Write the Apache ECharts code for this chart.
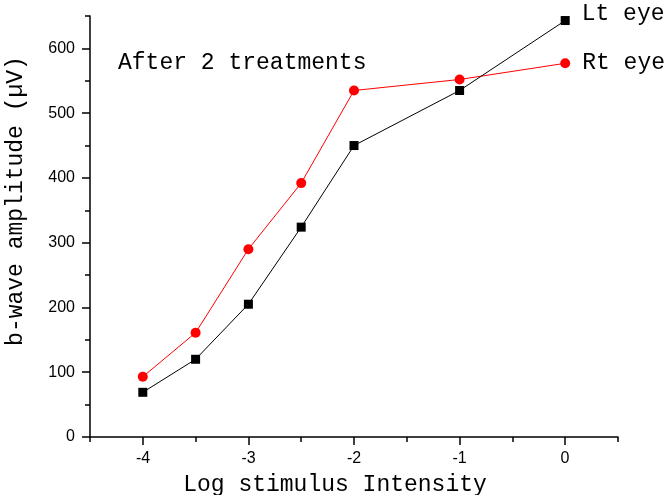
<!DOCTYPE html>
<html>
<head>
<meta charset="utf-8">
<script src="https://cdn.jsdelivr.net/npm/echarts@6/dist/echarts.min.js"></script>
<style>
html, body { margin: 0; padding: 0; background: #fff; }
#chart { width: 665px; height: 495px; }
</style>
</head>
<body>
<div id="chart"></div>
<script>
// log stimulus intensity (x) and b-wave amplitudes in µV
var logIntensity = [-4, -3.5, -3, -2.5, -2, -1, 0];
var ltEye = [69, 120, 205, 324, 450, 535, 643];
var rtEye = [93, 161, 290, 392, 535, 552, 577];
var seriesNames = ['Lt eye', 'Rt eye'];

var mono = '"Liberation Mono", "Courier New", monospace';
var sans = '"Liberation Sans", Arial, sans-serif';

function pairs(ys) {
	return logIntensity.map(function (x, i) { return [x, ys[i]]; });
}

function endLabel(offset) {
	return {
		show: true,
		position: 'right',
		distance: 12,
		offset: offset,
		fontFamily: mono,
		fontSize: 23,
		color: '#000',
		formatter: function (p) {
			return p.dataIndex === logIntensity.length - 1 ? p.seriesName : '';
		}
	};
}

var chart = echarts.init(document.getElementById('chart'));

chart.setOption({
	animation: false,
	backgroundColor: '#fff',
	grid: [
		{ left: 90, right: 47, top: 16, bottom: 58 },
		{ left: 143, right: 100, top: 48.4, bottom: 58 }
	],
	xAxis: [
		{
			type: 'value', gridIndex: 0, min: -4.5, max: 0.5, interval: 0.5,
			axisLine: { onZero: false, lineStyle: { color: '#000', width: 1.5 } },
			axisTick: { length: 5, lineStyle: { color: '#000', width: 1.5 } },
			axisLabel: { show: false },
			splitLine: { show: false }
		},
		{
			type: 'value', gridIndex: 1, min: -4, max: 0, interval: 1,
			axisLine: { show: false, onZero: false },
			axisTick: { length: 8, lineStyle: { color: '#000', width: 1.5 } },
			axisLabel: { margin: 14, color: '#000', fontFamily: sans, fontSize: 16 },
			splitLine: { show: false }
		}
	],
	yAxis: [
		{
			type: 'value', gridIndex: 0, min: 0, max: 650, interval: 50,
			axisLine: { show: true, onZero: false, lineStyle: { color: '#000', width: 1.5 } },
			axisTick: { show: true, length: 5, lineStyle: { color: '#000', width: 1.5 } },
			axisLabel: { show: false },
			splitLine: { show: false }
		},
		{
			type: 'value', gridIndex: 1, min: 0, max: 600, interval: 100, offset: 53,
			axisLine: { show: false, onZero: false },
			axisTick: { show: true, length: 8, lineStyle: { color: '#000', width: 1.5 } },
			axisLabel: { margin: 15, color: '#000', fontFamily: sans, fontSize: 16 },
			splitLine: { show: false }
		}
	],
	series: [
		{
			name: seriesNames[0], type: 'line', xAxisIndex: 0, yAxisIndex: 0,
			data: pairs(ltEye),
			symbol: 'rect', symbolSize: 9,
			itemStyle: { color: '#000' },
			lineStyle: { color: '#000', width: 1 },
			label: endLabel([0, -7]),
			z: 3
		},
		{
			name: seriesNames[1], type: 'line', xAxisIndex: 0, yAxisIndex: 0,
			data: pairs(rtEye),
			symbol: 'circle', symbolSize: 10,
			itemStyle: { color: '#ff0000' },
			lineStyle: { color: '#ff0000', width: 1 },
			label: endLabel([0, 0]),
			z: 2
		}
	],
	graphic: [
		{
			type: 'text', left: 118, top: 51,
			style: { text: 'After 2 treatments', font: '23px ' + mono, fill: '#000' }
		},
		{
			type: 'text', x: 16, y: 201, rotation: Math.PI / 2,
			style: {
				text: 'b-wave amplitude (µV)', font: '23px ' + mono, fill: '#000',
				align: 'center', verticalAlign: 'middle'
			}
		},
		{
			type: 'text', x: 335, y: 485,
			style: {
				text: 'Log stimulus Intensity', font: '23px ' + mono, fill: '#000',
				align: 'center', verticalAlign: 'middle'
			}
		}
	]
});
</script>
</body>
</html>
